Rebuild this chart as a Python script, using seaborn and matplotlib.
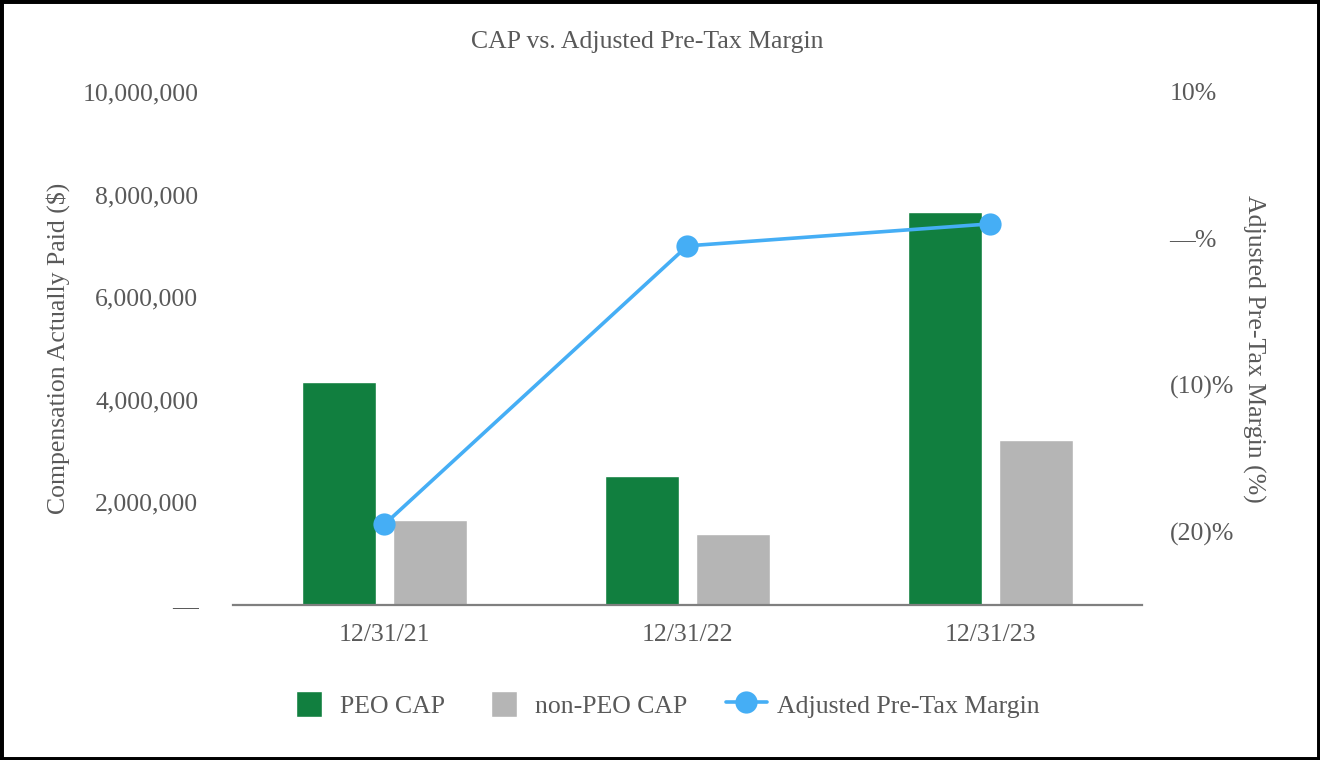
import numpy as np
import pandas as pd
import matplotlib
matplotlib.use("Agg")
import matplotlib.pyplot as plt
import seaborn as sns
from matplotlib.patches import Rectangle
from matplotlib.lines import Line2D
from matplotlib.legend_handler import HandlerPatch
from matplotlib.ticker import FuncFormatter

# ---------------------------------------------------------------------------
# data
# ---------------------------------------------------------------------------
years = ["12/31/21", "12/31/22", "12/31/23"]
peo_cap = [4350000, 2510000, 7660000]
non_peo_cap = [1660000, 1380000, 3220000]
pretax_margin = [-19.5, -0.5, 1.0]   # percent

series_names = ["PEO CAP", "non-PEO CAP"]
line_name = "Adjusted Pre-Tax Margin"

GREEN = "#117F3F"
GREY = "#B5B5B5"
BLUE = "#45AEF5"
TEXT = "#595959"

sns.set_theme(style="white")
plt.rcParams["font.family"] = ["Liberation Serif", "DejaVu Serif"]
plt.rcParams["text.color"] = TEXT
plt.rcParams["axes.labelcolor"] = TEXT
plt.rcParams["xtick.color"] = TEXT
plt.rcParams["ytick.color"] = TEXT

df = pd.DataFrame({
    "Year": years * 2,
    "Series": [series_names[0]] * 3 + [series_names[1]] * 3,
    "CAP": peo_cap + non_peo_cap,
})

fig = plt.figure(figsize=(13.2, 7.6), dpi=100)
ax = fig.add_axes([0.1765, 0.204, 0.6885, 0.675])

sns.barplot(data=df, x="Year", y="CAP", hue="Series", order=years,
            hue_order=series_names, palette=[GREEN, GREY],
            width=0.6, gap=0.19, saturation=1, ax=ax, legend=False)

ax.set_ylim(0, 10000000)
ax.set_xlim(-0.5, 2.5)
ax.set_yticks(np.arange(0, 10000001, 2000000))
ax.yaxis.set_major_formatter(FuncFormatter(
    lambda v, p: "\u2014" if v == 0 else f"{int(v):,}"))
ax.tick_params(axis="y", length=0, pad=25, labelsize=18.5)
ax.tick_params(axis="x", length=0, pad=14, labelsize=18.5)
ax.set_xlabel("")
ax.set_ylabel("Compensation Actually Paid ($)", fontsize=18.5, labelpad=9)
for s in ["top", "left", "right"]:
    ax.spines[s].set_visible(False)
ax.spines["bottom"].set_color("#7f7f7f")
ax.spines["bottom"].set_linewidth(1.6)

# secondary axis: margin line
ax2 = ax.twinx()
sns.lineplot(x=np.arange(len(years)), y=pretax_margin, ax=ax2, color=BLUE,
             linewidth=2.6, marker="o", markersize=16, markeredgewidth=0,
             label=line_name, legend=False)
ax2.set_ylim(-25, 10)
ax2.set_yticks([10, 0, -10, -20])

def pct_fmt(v, p):
    if v == 0:
        return "\u2014%"
    if v < 0:
        return f"({int(-v)})%"
    return f"{int(v)}%"

ax2.yaxis.set_major_formatter(FuncFormatter(pct_fmt))
ax2.tick_params(axis="y", length=0, pad=20, labelsize=18.5)
ax2.set_ylabel("Adjusted Pre-Tax Margin (%)", fontsize=18.5, rotation=270,
               labelpad=6, va="bottom")
for s in ["top", "left", "right", "bottom"]:
    ax2.spines[s].set_visible(False)

fig.text(0.4905, 0.945, "CAP vs. Adjusted Pre-Tax Margin", ha="center",
         va="center", fontsize=18.5, color=TEXT)

# legend
def square_patch(legend, orig_handle, xdescent, ydescent, width, height, fontsize):
    return Rectangle((-xdescent + (width - height) / 2, -ydescent), height, height)

handles = [Rectangle((0, 0), 1, 1, facecolor=GREEN),
           Rectangle((0, 0), 1, 1, facecolor=GREY),
           Line2D([], [], color=BLUE, linewidth=2.6, marker="o",
                  markersize=16, markeredgewidth=0)]
leg = fig.legend(handles, series_names + [line_name], loc="center",
                 bbox_to_anchor=(0.503, 0.073), ncol=3, frameon=False,
                 fontsize=18.5, handlelength=1.6, handleheight=1.15,
                 handletextpad=0.4, columnspacing=1.5,
                 handler_map={Rectangle: HandlerPatch(patch_func=square_patch)})

# outer frame
fig.patches.append(Rectangle((0, 0), 1, 1, transform=fig.transFigure,
                             fill=False, edgecolor="black", linewidth=5))

fig.savefig("out.png", dpi=100)
